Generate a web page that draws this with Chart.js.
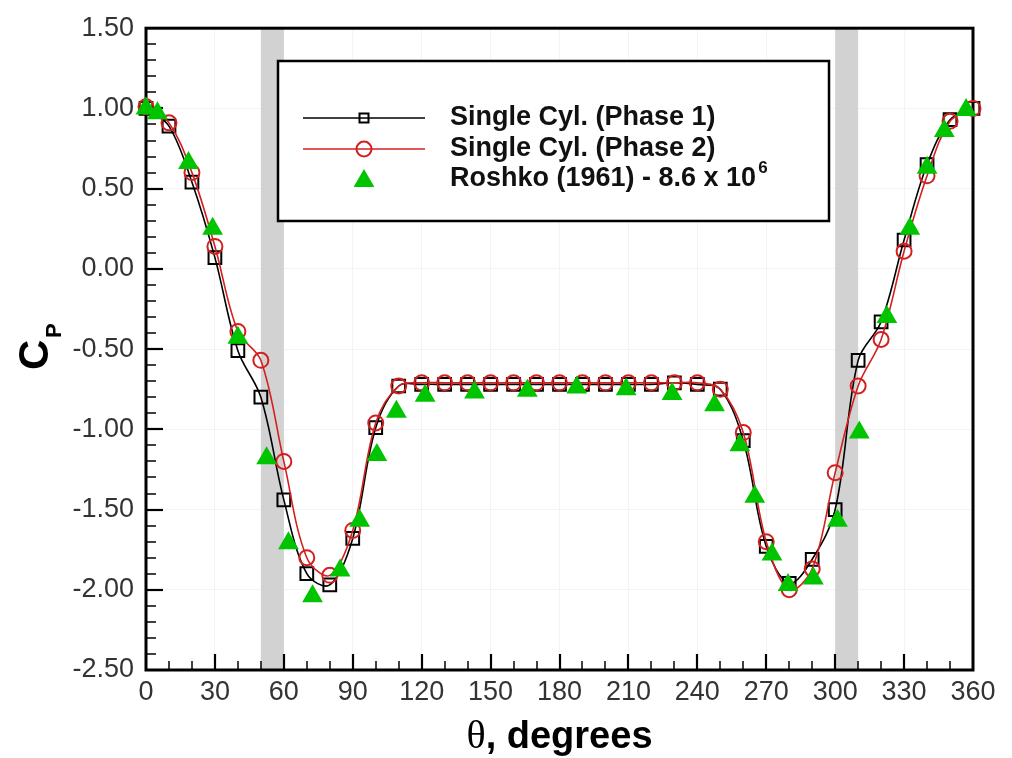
<!DOCTYPE html>
<html>
<head>
<meta charset="utf-8">
<script src="https://cdn.jsdelivr.net/npm/chart.js@4.4.1/dist/chart.umd.min.js"></script>
<style>
  html, body { margin: 0; padding: 0; background: #fff; }
  #cpChart { display: block; }
</style>
</head>
<body>
<canvas id="cpChart" width="1012" height="758"></canvas>
<script>
  // Surface pressure coefficient around the cylinder
  const angles = [0, 10, 20, 30, 40, 50, 60, 70, 80, 90, 100, 110, 120, 130, 140, 150, 160, 170, 180,
    190, 200, 210, 220, 230, 240, 250, 260, 270, 280, 290, 300, 310, 320, 330, 340, 350, 360];
  const phase1Cp = [1.00, 0.89, 0.54, 0.07, -0.51, -0.80, -1.44, -1.90, -1.97, -1.68, -0.99, -0.73, -0.72,
    -0.72, -0.72, -0.72, -0.72, -0.72, -0.72, -0.72, -0.72, -0.72, -0.72, -0.71, -0.72, -0.75, -1.07,
    -1.73, -1.96, -1.81, -1.50, -0.57, -0.33, 0.18, 0.65, 0.93, 1.00];
  const phase2Cp = [1.01, 0.91, 0.60, 0.14, -0.39, -0.57, -1.20, -1.80, -1.91, -1.63, -0.96, -0.73, -0.71,
    -0.71, -0.71, -0.71, -0.71, -0.71, -0.71, -0.71, -0.71, -0.71, -0.71, -0.71, -0.71, -0.75, -1.02,
    -1.70, -2.00, -1.87, -1.27, -0.73, -0.44, 0.11, 0.58, 0.92, 1.00];
  const roshkoAngles = [0, 5, 18.5, 29, 40, 52.5, 62, 72.5, 84.5, 93, 100.5, 109, 121.5, 143, 166, 187.5,
    209, 229, 247.5, 258.5, 265, 272.5, 279.5, 290.5, 301, 310.5, 322.5, 332.5, 340, 347.5, 357];
  const roshkoCp = [1.00, 0.97, 0.66, 0.25, -0.43, -1.18, -1.71, -2.04, -1.88, -1.57, -1.16, -0.89, -0.79,
    -0.77, -0.76, -0.74, -0.75, -0.78, -0.85, -1.10, -1.42, -1.78, -1.97, -1.93, -1.57, -1.02, -0.30,
    0.25, 0.63, 0.86, 0.99];
  const shadedBands = [[50, 60], [300, 310]];
  const seriesLabels = ['Single Cyl. (Phase 1)', 'Single Cyl. (Phase 2)', 'Roshko (1961) - 8.6 x 10'];

  const sans = '"Liberation Sans", Arial, sans-serif';
  const green = '#00c400';
  const red = '#d41f1f';

  function toPoints(xs, ys) {
    return xs.map((x, i) => ({ x: x, y: ys[i] }));
  }

  // gray bands, frame and inward ticks
  const backdropPlugin = {
    id: 'backdrop',
    beforeDatasetsDraw(chart) {
      const { ctx, chartArea: a, scales: { x, y } } = chart;
      ctx.save();
      ctx.fillStyle = '#d2d2d2';
      shadedBands.forEach(b => {
        const x0 = x.getPixelForValue(b[0]);
        const x1 = x.getPixelForValue(b[1]);
        ctx.fillRect(x0, a.top, x1 - x0, a.bottom - a.top);
      });

      ctx.strokeStyle = '#000';
      // x ticks every 10 deg, major every 30
      for (let v = x.min; v <= x.max; v += 10) {
        if (v === x.min || v === x.max) continue;
        const px = Math.round(x.getPixelForValue(v));
        const major = v % 30 === 0;
        ctx.lineWidth = major ? 2.2 : 1.5;
        ctx.beginPath();
        ctx.moveTo(px, a.bottom);
        ctx.lineTo(px, a.bottom - (major ? 16 : 9));
        ctx.stroke();
      }
      // y ticks every 0.1, major every 0.5
      for (let i = 1; i < 40; i++) {
        const v = y.min + i * 0.1;
        const py = Math.round(y.getPixelForValue(v));
        const major = i % 5 === 0;
        ctx.lineWidth = major ? 2.2 : 1.5;
        ctx.beginPath();
        ctx.moveTo(a.left, py);
        ctx.lineTo(a.left + (major ? 17 : 10), py);
        ctx.stroke();
      }
      ctx.lineWidth = 3;
      ctx.strokeRect(a.left, a.top, a.right - a.left, a.bottom - a.top);
      ctx.restore();
    }
  };

  function drawMarker(ctx, kind, cx, cy) {
    ctx.beginPath();
    if (kind === 'rect') {
      ctx.strokeStyle = '#000';
      ctx.lineWidth = 2;
      ctx.rect(cx - 4.5, cy - 4.5, 9, 9);
      ctx.stroke();
    } else if (kind === 'circle') {
      ctx.strokeStyle = red;
      ctx.lineWidth = 2;
      ctx.arc(cx, cy, 7.5, 0, Math.PI * 2);
      ctx.stroke();
    } else {
      const r = 12;
      ctx.fillStyle = green;
      ctx.moveTo(cx, cy - r);
      ctx.lineTo(cx + r * Math.sin(2 * Math.PI / 3), cy - r * Math.cos(2 * Math.PI / 3));
      ctx.lineTo(cx + r * Math.sin(4 * Math.PI / 3), cy - r * Math.cos(4 * Math.PI / 3));
      ctx.closePath();
      ctx.fill();
    }
  }

  // legend box, axis titles
  const overlayPlugin = {
    id: 'overlay',
    afterDraw(chart) {
      const { ctx, chartArea: a } = chart;
      ctx.save();

      // legend
      const bx = 278, by = 61, bw = 551, bh = 160;
      ctx.fillStyle = '#fff';
      ctx.fillRect(bx, by, bw, bh);
      ctx.strokeStyle = '#000';
      ctx.lineWidth = 2.5;
      ctx.strokeRect(bx, by, bw, bh);

      const rows = [118, 149, 179];
      const kinds = ['rect', 'circle', 'triangle'];
      const lineColors = ['#000', red, null];
      rows.forEach((ry, i) => {
        if (lineColors[i]) {
          ctx.strokeStyle = lineColors[i];
          ctx.lineWidth = 1.6;
          ctx.beginPath();
          ctx.moveTo(303, ry);
          ctx.lineTo(425, ry);
          ctx.stroke();
        }
        drawMarker(ctx, kinds[i], 364, ry + (i === 2 ? 2 : 0));
        ctx.fillStyle = '#111';
        ctx.font = 'bold 27px ' + sans;
        ctx.textAlign = 'left';
        ctx.textBaseline = 'middle';
        ctx.fillText(seriesLabels[i], 450, ry);
        if (i === 2) {
          const w = ctx.measureText(seriesLabels[i]).width;
          ctx.font = 'bold 17px ' + sans;
          ctx.fillText('6', 450 + w + 2, ry - 11);
        }
      });

      // y title: C with subscript P
      ctx.fillStyle = '#000';
      ctx.translate(48, 370);
      ctx.rotate(-Math.PI / 2);
      ctx.textAlign = 'left';
      ctx.textBaseline = 'alphabetic';
      ctx.font = 'bold 42px ' + sans;
      ctx.fillText('C', 0, 0);
      ctx.font = 'bold 22px ' + sans;
      ctx.fillText('P', 32, 13);
      ctx.setTransform(1, 0, 0, 1, 0, 0);

      // x title
      const thetaFont = '40px "Liberation Serif", "Times New Roman", serif';
      const restFont = 'bold 38px ' + sans;
      ctx.font = thetaFont;
      const tw = ctx.measureText('\u03b8').width;
      ctx.font = restFont;
      const rw = ctx.measureText(', degrees').width;
      const cx = (a.left + a.right) / 2;
      const sx = cx - (tw + rw) / 2;
      ctx.textBaseline = 'alphabetic';
      ctx.font = thetaFont;
      ctx.fillText('\u03b8', sx, 748);
      ctx.font = restFont;
      ctx.fillText(', degrees', sx + tw, 748);
      ctx.restore();
    }
  };

  const ctx = document.getElementById('cpChart').getContext('2d');
  const cpChart = new Chart(ctx, {
    type: 'scatter',
    data: {
      datasets: [
        {
          label: seriesLabels[0],
          data: toPoints(angles, phase1Cp),
          showLine: true,
          borderColor: '#000',
          borderWidth: 1.6,
          tension: 0.35,
          pointStyle: 'rect',
          pointRadius: 9,
          pointBorderWidth: 2,
          pointBorderColor: '#000',
          pointBackgroundColor: 'rgba(0,0,0,0)',
          clip: false,
          order: 2
        },
        {
          label: seriesLabels[1],
          data: toPoints(angles, phase2Cp),
          showLine: true,
          borderColor: red,
          borderWidth: 1.6,
          tension: 0.35,
          pointStyle: 'circle',
          pointRadius: 7.5,
          pointBorderWidth: 2,
          pointBorderColor: red,
          pointBackgroundColor: 'rgba(0,0,0,0)',
          clip: false,
          order: 1
        },
        {
          label: seriesLabels[2],
          data: toPoints(roshkoAngles, roshkoCp),
          showLine: false,
          pointStyle: 'triangle',
          pointRadius: 12,
          pointBorderWidth: 0,
          pointBackgroundColor: green,
          pointBorderColor: green,
          clip: false,
          order: 0
        }
      ]
    },
    options: {
      responsive: false,
      animation: false,
      layout: { padding: { top: 22, right: 39, left: 0, bottom: 0 } },
      plugins: {
        legend: { display: false },
        tooltip: { enabled: false }
      },
      scales: {
        x: {
          type: 'linear',
          min: 0,
          max: 360,
          ticks: {
            stepSize: 30,
            padding: 6,
            color: '#333',
            font: { family: sans, size: 27 }
          },
          grid: { color: '#f3f3f3', drawTicks: false },
          border: { display: false },
          afterFit: s => { s.height = 88; }
        },
        y: {
          min: -2.5,
          max: 1.5,
          ticks: {
            stepSize: 0.5,
            padding: 12,
            color: '#333',
            font: { family: sans, size: 27 },
            callback: v => v.toFixed(2)
          },
          grid: { color: '#f3f3f3', drawTicks: false },
          border: { display: false },
          afterFit: s => { s.width = 146; }
        }
      }
    },
    plugins: [backdropPlugin, overlayPlugin]
  });
</script>
</body>
</html>
